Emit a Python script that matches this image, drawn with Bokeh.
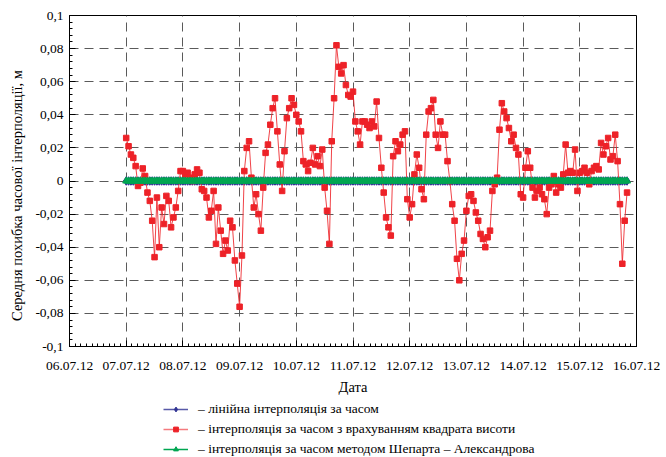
import pandas as pd
from bokeh.plotting import figure
from bokeh.layouts import column
from bokeh.models import (FixedTicker, Legend, LegendItem, ColumnDataSource)
from bokeh.embed import file_html
from bokeh.resources import INLINE

# ---------------- data ----------------
start_date = "2012-07-07 00:00"
# hourly values of the red series, one list per day (m)
red_0707 = [0.026, 0.021, 0.016, 0.014, 0.009, -0.003, -0.001, 0.0076, 0.003, -0.007, -0.012, -0.024,
            -0.046, -0.010, -0.040, -0.016, -0.026, -0.009, -0.012, -0.028, -0.022, -0.016, -0.006, 0.006]
red_0807 = [0.006, 0.004, 0.005, 0.002, 0.000, 0.004, 0.007, 0.005, -0.005, -0.006, -0.010, -0.022,
            -0.018, -0.006, -0.038, -0.016, -0.030, -0.044, -0.036, -0.042, -0.024, -0.028, -0.048, -0.062]
red_0907 = [-0.076, -0.045, 0.006, 0.020, 0.024, 0.002, -0.016, -0.008, -0.020, -0.030, -0.004, 0.017,
            0.022, 0.034, 0.044, 0.050, 0.030, 0.010, -0.006, 0.018, 0.038, 0.044, 0.050, 0.046]
red_1007 = [0.040, 0.036, 0.030, 0.012, 0.010, 0.006, 0.011, 0.020, 0.010, 0.015, 0.009, 0.019,
            -0.004, -0.018, -0.038, 0.024, 0.050, 0.082, 0.069, 0.065, 0.070, 0.058, 0.052, 0.051]
red_1107 = [0.054, 0.036, 0.030, 0.022, 0.036, 0.036, 0.034, 0.032, 0.036, 0.033, 0.048, 0.026,
            0.008, -0.007, -0.022, -0.028, -0.033, 0.015, 0.024, 0.018, 0.022, 0.028, 0.030, -0.011]
red_1207 = [-0.022, -0.014, 0.004, 0.016, 0.008, -0.005, -0.011, 0.028, 0.042, 0.044, 0.049, 0.028,
            0.020, 0.036, 0.028, 0.028, 0.012, 0.000, -0.014, -0.024, -0.047, -0.060, -0.044, -0.036]
red_1307 = [-0.018, -0.009, -0.008, -0.012, -0.019, -0.024, -0.032, -0.035, -0.040, -0.034, -0.030, -0.006,
            -0.002, 0.002, 0.031, 0.047, 0.042, 0.038, 0.032, 0.024, 0.028, 0.020, 0.016, -0.008]
red_1407 = [-0.010, 0.008, 0.018, 0.008, -0.004, -0.010, -0.006, -0.004, -0.008, -0.011, -0.020, -0.004,
            -0.002, 0.003, -0.007, -0.002, -0.004, 0.004, 0.022, 0.005, 0.006, 0.005, 0.019, -0.006]
red_1507 = [0.005, 0.006, 0.008, 0.005, -0.002, 0.006, 0.008, 0.009, 0.007, 0.023, 0.016, 0.021,
            0.026, 0.013, 0.015, 0.028, 0.012, -0.014, -0.050, -0.024, -0.007]

red_values = (red_0707 + red_0807 + red_0907 + red_1007 + red_1107 +
              red_1207 + red_1307 + red_1407 + red_1507)
n_points = len(red_values)
# the two other methods give zero error throughout
linear_values = [0.0] * n_points
shepard_values = [0.0] * n_points

x_tick_dates = ["2012-07-06", "2012-07-07", "2012-07-08", "2012-07-09", "2012-07-10", "2012-07-11",
                "2012-07-12", "2012-07-13", "2012-07-14", "2012-07-15", "2012-07-16"]
x_tick_labels = ["06.07.12", "07.07.12", "08.07.12", "09.07.12", "10.07.12", "11.07.12",
                 "12.07.12", "13.07.12", "14.07.12", "15.07.12", "16.07.12"]
y_ticks = [-0.1, -0.08, -0.06, -0.04, -0.02, 0.0, 0.02, 0.04, 0.06, 0.08, 0.1]
y_tick_labels = ["-0,1", "-0,08", "-0,06", "-0,04", "-0,02", "0", "0,02", "0,04", "0,06", "0,08", "0,1"]

x_title = "Дата"
y_title = "Середня похибка часової інтерполяції, м"
legend_labels = ["– лінійна інтерполяція за часом",
                 "– інтерполяція за часом з врахуванням квадрата висоти",
                 "– інтерполяція за часом методом Шепарта – Александрова"]

# ---------------- figure ----------------
times = pd.date_range(start_date, periods=n_points, freq="h")
src = ColumnDataSource(dict(t=times, red=red_values, lin=linear_values, shep=shepard_values))

tick_ms = [pd.Timestamp(d).value / 1e6 for d in x_tick_dates]
day_ms = 86400000.0
minor_ms = [tick_ms[0] + i * day_ms / 10 for i in range(101)]

FONT = "Liberation Serif"
BLUE = "#2e3192"
RED = "#ed2228"
GREEN = "#00a651"

p = figure(x_axis_type="datetime", width=666, height=398,
           min_border_left=69, min_border_right=30, min_border_top=15, min_border_bottom=52,
           x_range=(tick_ms[0], tick_ms[-1]), y_range=(-0.1, 0.1),
           output_backend="svg", toolbar_location=None, background_fill_color="white",
           border_fill_color="white")

p.outline_line_color = "black"
p.outline_line_width = 1

p.xaxis.ticker = FixedTicker(ticks=tick_ms, minor_ticks=minor_ms)
p.xaxis.major_label_overrides = dict(zip(tick_ms, x_tick_labels))
p.yaxis.ticker = FixedTicker(ticks=y_ticks,
                             minor_ticks=[round(-0.1 + i * 0.004, 4) for i in range(51)])
p.yaxis.major_label_overrides = dict(zip(y_ticks, y_tick_labels))

for ax in (p.xaxis, p.yaxis):
    ax.major_tick_in = 6
    ax.major_tick_out = 0
    ax.minor_tick_in = 3
    ax.minor_tick_out = 0
    ax.axis_line_color = "black"
    ax.major_tick_line_color = "black"
    ax.minor_tick_line_color = "black"
    ax.major_label_text_font = FONT
    ax.major_label_text_font_size = "13.5px"
    ax.major_label_text_color = "black"
    ax.axis_label_text_font = FONT
    ax.axis_label_text_font_size = "14.5px"
    ax.axis_label_text_font_style = "normal"
    ax.axis_label_text_color = "black"

p.xaxis.axis_label = x_title
p.xaxis.major_label_standoff = 15
p.xaxis.axis_label_standoff = 6
# trailing spaces shift the rotated title down a little, as in the original
p.yaxis.axis_label = y_title + "\u2002\u2002\u2002\u2002"
p.yaxis.major_label_standoff = 6
p.yaxis.axis_label_standoff = 7

p.xgrid.ticker = FixedTicker(ticks=tick_ms)
p.ygrid.ticker = FixedTicker(ticks=y_ticks)
for g in (p.xgrid, p.ygrid):
    g.grid_line_color = "#5a5a5a"
    g.grid_line_width = 1
    g.grid_line_dash = "9 6"

p.line("t", "lin", source=src, line_color=BLUE, line_width=1)
p.scatter("t", "lin", source=src, marker="diamond", size=8.5, fill_color=BLUE, line_color=BLUE)
p.line("t", "red", source=src, line_color=RED, line_width=1, line_alpha=0.85)
p.scatter("t", "red", source=src, marker="square", size=5.5, fill_color=RED, line_color=RED)
p.line("t", "shep", source=src, line_color=GREEN, line_width=5)
p.scatter("t", "shep", source=src, marker="triangle", size=7, fill_color=GREEN, line_color=GREEN)

# ---------------- legend strip below the chart ----------------
lf = figure(width=666, height=59, min_border=0, toolbar_location=None,
            x_axis_type=None, y_axis_type=None, output_backend="svg",
            outline_line_color=None, x_range=(0, 1), y_range=(0, 1))
lf.xgrid.visible = False
lf.ygrid.visible = False
# samples for the legend only: placed outside the visible range of the strip
offscreen = ColumnDataSource(dict(x=[-5, -4], y=[-5, -4]))
lb_l = lf.line("x", "y", source=offscreen, line_color=BLUE, line_width=1.5, line_alpha=0.8)
lb_m = lf.scatter("x", "y", source=offscreen, marker="diamond", fill_color=BLUE, line_color=BLUE)
lr_l = lf.line("x", "y", source=offscreen, line_color=RED, line_width=1.5, line_alpha=0.6)
lr_m = lf.scatter("x", "y", source=offscreen, marker="square", fill_color=RED, line_color=RED)
lg_l = lf.line("x", "y", source=offscreen, line_color=GREEN, line_width=1.5)
lg_m = lf.scatter("x", "y", source=offscreen, marker="triangle", fill_color=GREEN, line_color=GREEN)

legend = Legend(items=[LegendItem(label=legend_labels[0], renderers=[lb_l, lb_m]),
                       LegendItem(label=legend_labels[1], renderers=[lr_l, lr_m]),
                       LegendItem(label=legend_labels[2], renderers=[lg_l, lg_m])],
                location=(94, 0), orientation="vertical",
                border_line_alpha=0, background_fill_alpha=0,
                label_text_font=FONT, label_text_font_size="13.5px", label_text_color="black",
                glyph_width=25, glyph_height=12, label_height=17, label_standoff=10,
                spacing=3, padding=0, margin=0)
lf.add_layout(legend, "center")

layout = column(p, lf, spacing=0)
open("out.html", "w").write(file_html(layout, INLINE))
